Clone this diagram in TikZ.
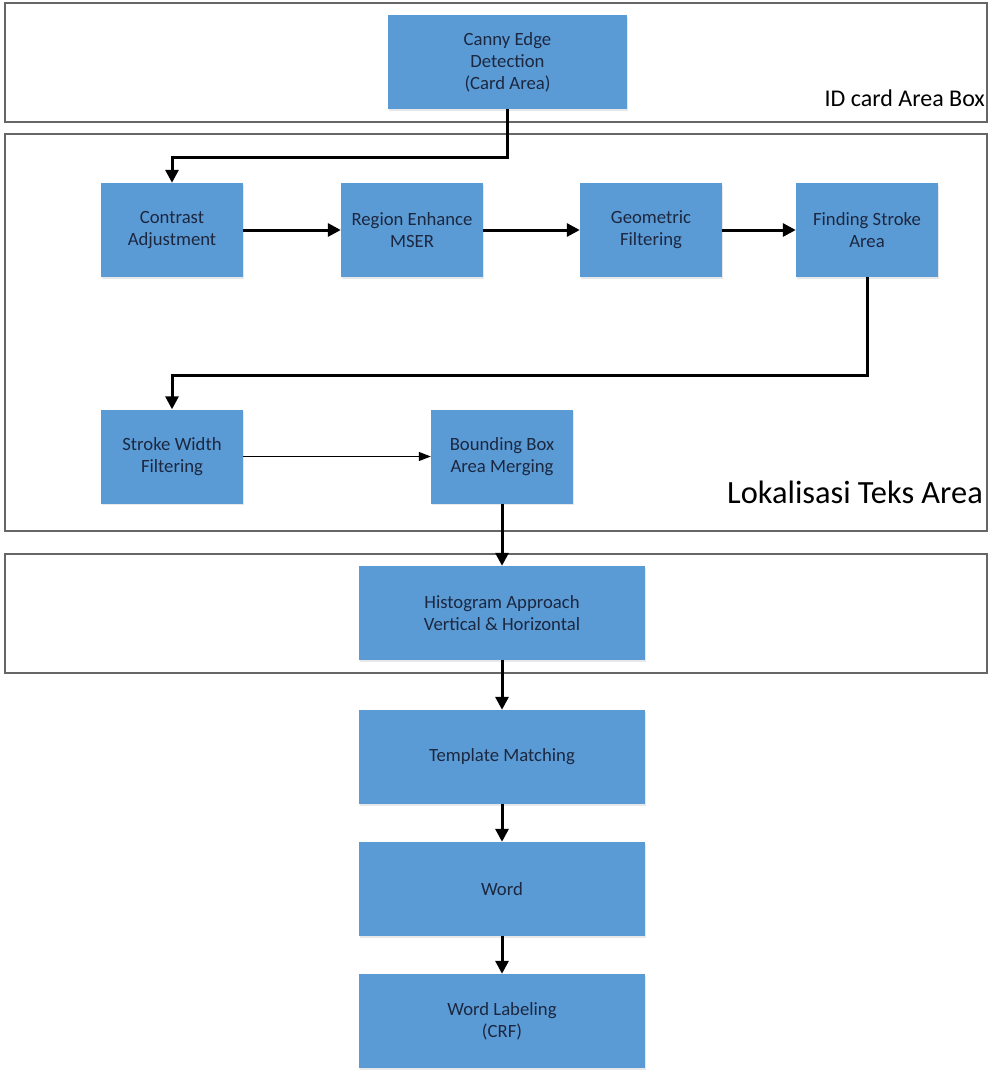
\documentclass[tikz,border=0pt]{standalone}
\usepackage{fontspec}
\setmainfont{Carlito}
\usetikzlibrary{arrows.meta,shadows}
\definecolor{boxblue}{HTML}{5B9BD5}
\definecolor{txtnavy}{HTML}{1C2740}
\definecolor{framegray}{HTML}{666666}
\begin{document}
\begin{tikzpicture}[x=1pt,y=-1pt,
  frame/.style={draw=framegray, line width=1.3pt, fill=white, rectangle, inner sep=0pt},
  proc/.style={rectangle, fill=boxblue, inner sep=0pt, minimum width=142pt, minimum height=94pt,
    text=txtnavy, align=center, font=\fontsize{18.7}{22}\selectfont,
    drop shadow={opacity=0.18, shadow xshift=1pt, shadow yshift=-1.5pt}},
  wideproc/.style={proc, minimum width=286pt},
  flow/.style={line width=3pt, black, -{Triangle[length=13pt,width=13pt]}},
  thinflow/.style={line width=1pt, black, -{Triangle[length=12pt,width=9pt]}},
  lbl/.style={inner sep=0pt, text=black}
]
\useasboundingbox (0,0) rectangle (1000,1077);
\fill[white] (0,0) rectangle (1000,1077);

% frames
\node[frame, minimum width=982pt, minimum height=119pt] (f1) at (496,62.5) {};
\node[frame, minimum width=982pt, minimum height=397pt] (f2) at (496,332.5) {};
\node[frame, minimum width=982pt, minimum height=119pt] (f3) at (496,613.5) {};

\node[lbl, anchor=base east, font=\fontsize{24}{28}\selectfont] (l1) at (985,106) {ID card Area Box};
\node[lbl, anchor=base east, font=\fontsize{32.4}{38}\selectfont] (l2) at (983,503) {Lokalisasi Teks Area};

% process boxes
\node[proc, minimum width=239pt] (canny) at (507.5,62) {Canny Edge\\Detection\\(Card Area)};
\node[proc] (contrast) at (172,230) {Contrast\\Adjustment};
\node[proc] (mser) at (412,230) {Region Enhance\\MSER};
\node[proc] (geo) at (651,230) {Geometric\\Filtering};
\node[proc] (fsa) at (867,230) {Finding Stroke\\Area};
\node[proc] (swf) at (172,456.5) {Stroke Width\\Filtering};
\node[proc] (bbox) at (502,456.5) {Bounding Box\\Area Merging};
\node[wideproc] (hist) at (502,613) {Histogram Approach\\Vertical \& Horizontal};
\node[wideproc] (tmpl) at (502,757) {Template Matching};
\node[wideproc] (word) at (502,889) {Word};
\node[wideproc] (wlab) at (502,1021) {Word Labeling\\(CRF)};

% connectors
\draw[flow] (canny.south) -- ++(0,48) -| (contrast.north);
\draw[flow] (contrast.east) -- (mser.west);
\draw[flow] (mser.east) -- (geo.west);
\draw[flow] (geo.east) -- (fsa.west);
\draw[flow] (fsa.south) -- ++(0,98) -| (swf.north);
\draw[thinflow] (swf.east) -- (bbox.west);
\draw[flow] (bbox.south) -- (hist.north);
\draw[flow] (hist.south) -- (tmpl.north);
\draw[flow] (tmpl.south) -- (word.north);
\draw[flow] (word.south) -- (wlab.north);
\end{tikzpicture}
\end{document}
